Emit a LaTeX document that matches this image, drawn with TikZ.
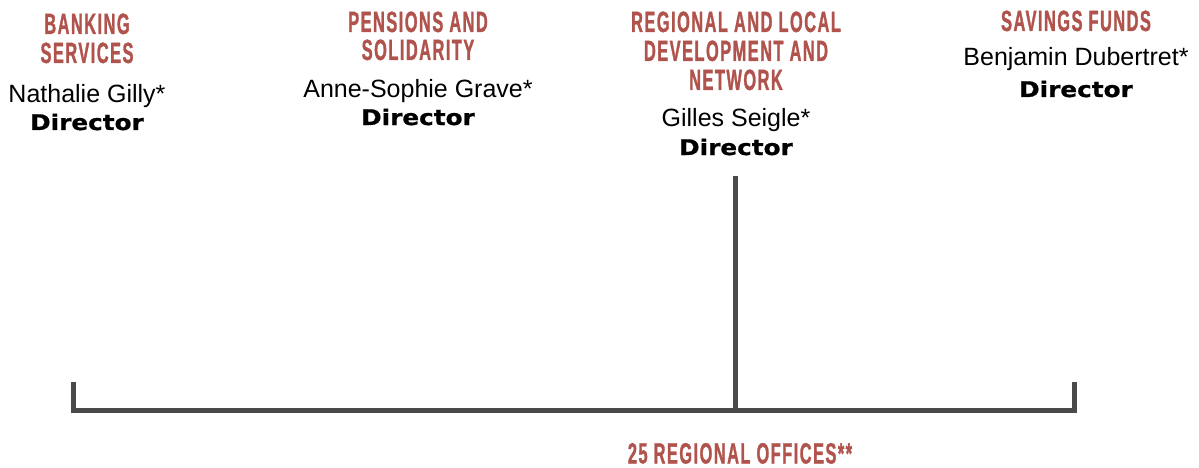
\documentclass[tikz,border=0pt]{standalone}
\usepackage{fontspec}
\setmainfont{Liberation Sans}
% condensed bold capitals for the unit titles
\newfontfamily\headfont[FakeStretch=0.56, LetterSpace=5, FakeBold=1]{Liberation Sans}
% wide heavy face for the job titles
\newfontfamily\dirfont[FakeStretch=1.15, FakeBold=0.8]{DejaVu Sans}
\definecolor{headred}{RGB}{176,83,76}
\definecolor{linegrey}{RGB}{74,74,74}
\tikzset{
  head/.style={anchor=base, inner sep=0pt, text=headred,
    font=\headfont\bfseries\fontsize{29.3}{29.3}\selectfont},
  person/.style={anchor=base, inner sep=0pt, text=black,
    font=\fontsize{25}{25}\selectfont},
  role/.style={anchor=base, inner sep=0pt, text=black,
    font=\dirfont\bfseries\fontsize{21.5}{21.5}\selectfont},
  bar/.style={draw=linegrey, line width=5pt, line cap=butt, line join=miter}
}
\begin{document}
\begin{tikzpicture}[x=1pt, y=-1pt]
\useasboundingbox (0,0) rectangle (1199,468);

% Banking services
\node[head]   (h1a) at (87,34)    {BANKING};
\node[head]   (h1b) at (87,63)    {SERVICES};
\node[person] (n1)  at (87,102.5) {Nathalie Gilly*};
\node[role]   (d1)  at (87,130)   {Director};

% Pensions and solidarity
\node[head]   (h2a) at (418,32)   {PENSIONS AND};
\node[head]   (h2b) at (418,60)   {SOLIDARITY};
\node[person] (n2)  at (418,97.5) {Anne-Sophie Grave*};
\node[role]   (d2)  at (418,125)  {Director};

% Regional and local development and network
\node[head]   (h3a) at (736,32)   {REGIONAL AND LOCAL};
\node[head]   (h3b) at (736,61)   {DEVELOPMENT AND};
\node[head]   (h3c) at (736,90)   {NETWORK};
\node[person] (n3)  at (736,126.5){Gilles Seigle*};
\node[role]   (d3)  at (736,155)  {Director};

% Savings funds
\node[head]   (h4a) at (1076,31)  {SAVINGS FUNDS};
\node[person] (n4)  at (1076,65.5){Benjamin Dubertret*};
\node[role]   (d4)  at (1076,97)  {Director};

% Regional network
\node[head, text depth=0pt] (reg) at (740,463.5){25 REGIONAL OFFICES**};

% bracket joining the regional offices
\coordinate (top) at (735,176);
\coordinate (joint) at (735,410);
\coordinate (lt) at (73,382);
\coordinate (lb) at (73,410);
\coordinate (rb) at (1074,410);
\coordinate (rt) at (1074,382);
\draw[bar] (lt) -- (lb) -- (rb) -- (rt);
\draw[bar] (top) -- (joint);
\end{tikzpicture}
\end{document}
